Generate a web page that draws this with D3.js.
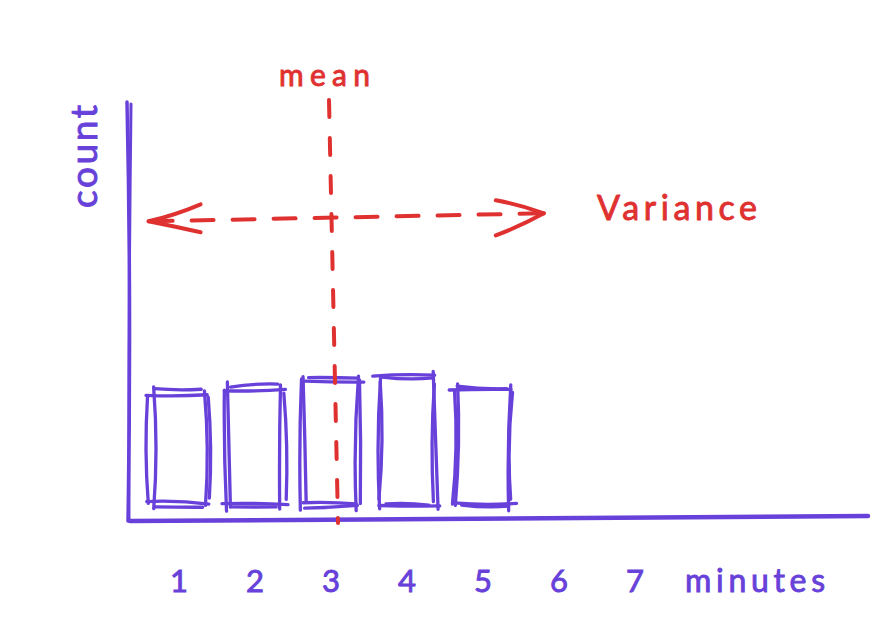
<!DOCTYPE html>
<html><head><meta charset="utf-8">
<script src="https://cdn.jsdelivr.net/npm/d3@7"></script>
<style>
html,body{margin:0;padding:0;background:#fff;}
svg{display:block;}
text{font-family:"Lato","Noto Sans",sans-serif;}
</style></head>
<body>
<svg id="chart" width="896" height="642"></svg>
<script>
// ---- data ----
const minuteTicks = [1, 2, 3, 4, 5, 6, 7];
const barMinutes = [1, 2, 3, 4, 5];
const barCounts = [5.3, 5.5, 5.8, 5.9, 5.4];
const meanMinute = 3;
const varianceRange = [0.6, 5.8];
const varianceLevel = 12.6;
const xAxisLabel = "minutes";
const yAxisLabel = "count";
const meanLabel = "mean";
const varianceLabel = "Variance";

(function () {
const purple = "#6741d9";
const red = "#e03131";

const svg = d3.select("#chart");
const plotLeft = 128, plotRight = 868, base = 519, plotTop = 100;

const x = d3.scaleLinear().domain([1, 7]).range([179, 635]);
const y = d3.scaleLinear().domain([0, 17.5]).range([base, plotTop]);

// deterministic wobble helper (styling only)
function wob(k) { return (Math.sin(k * 12.9898) * 43758.5453) % 1; }

function sketch(g, x1, y1, x2, y2, k, color, w, passes = 2, over = 7, off = 3.5) {
  for (let p = 0; p < passes; p++) {
    const s = k * 7 + p * 3.1;
    const dx = x2 - x1, dy = y2 - y1;
    const len = Math.hypot(dx, dy) || 1;
    const ux = dx / len, uy = dy / len;
    const nx = -uy, ny = ux;
    const o1 = wob(s + 1) * over, o2 = wob(s + 2) * over;
    const sx = x1 - ux * o1 + nx * wob(s + 3) * off;
    const sy = y1 - uy * o1 + ny * wob(s + 3) * off;
    const ex = x2 + ux * o2 + nx * wob(s + 4) * off;
    const ey = y2 + uy * o2 + ny * wob(s + 4) * off;
    const bow = wob(s + 5) * Math.min(5, len * 0.05);
    const mx = (sx + ex) / 2 + nx * bow, my = (sy + ey) / 2 + ny * bow;
    g.append("path")
      .attr("d", `M${sx},${sy} Q${mx},${my} ${ex},${ey}`)
      .attr("fill", "none").attr("stroke", color)
      .attr("stroke-width", w).attr("stroke-linecap", "round");
  }
}

// axes
const axes = svg.append("g");
sketch(axes, plotLeft - 1, plotTop + 2, plotLeft, base + 2, 1, purple, 3.5, 1, 0, 0);
sketch(axes, plotLeft + 3, plotTop + 4, plotLeft + 1, base + 2, 2, purple, 3, 1, 0, 0);
axes.append("path")
  .attr("d", `M${plotLeft + 2},${base + 2} L${plotRight},${base - 3}`)
  .attr("stroke", purple).attr("stroke-width", 4.5).attr("stroke-linecap", "round").attr("fill", "none");

// bars
const bw = 56;
const bars = svg.append("g");
barMinutes.forEach((m, i) => {
  const cx = x(m);
  const x0 = cx - bw / 2, x1 = cx + bw / 2;
  const yt = y(barCounts[i]), yb = base - 14;
  const k = i * 4 + 10;
  sketch(bars, x0, yt, x1, yt, k, purple, 3.3);
  sketch(bars, x1, yt, x1, yb, k + 1, purple, 3.3);
  sketch(bars, x1, yb, x0, yb, k + 2, purple, 3.3);
  sketch(bars, x0, yb, x0, yt, k + 3, purple, 3.3);
});

// mean line
const mx = x(meanMinute);
svg.append("line")
  .attr("x1", mx - 2).attr("y1", plotTop).attr("x2", mx + 7).attr("y2", base + 4)
  .attr("stroke", red).attr("stroke-width", 4).attr("stroke-linecap", "round")
  .attr("stroke-dasharray", "17 21");
svg.append("text").attr("x", 279).attr("y", 86)
  .attr("fill", red)
  .attr("font-size", 30).attr("stroke", red).attr("stroke-width", 0.9)
  .attr("textLength", 91).attr("lengthAdjust", "spacing")
  .text(meanLabel);

// variance arrow
const ax1 = x(varianceRange[0]), ax2 = x(varianceRange[1]);
const ay = y(varianceLevel);
const arr = svg.append("g");
arr.append("line")
  .attr("x1", ax1 + 2).attr("y1", ay + 4).attr("x2", ax2 - 2).attr("y2", ay - 4)
  .attr("stroke", red).attr("stroke-width", 4).attr("stroke-linecap", "round")
  .attr("stroke-dasharray", "22 19");
sketch(arr, ax1, ay + 4, ax1 + 52, ay - 13, 40, red, 4, 1, 0, 0);
sketch(arr, ax1, ay + 4, ax1 + 52, ay + 15, 41, red, 4, 1, 0, 0);
sketch(arr, ax2, ay - 4, ax2 - 48, ay - 17, 42, red, 4, 1, 0, 0);
sketch(arr, ax2, ay - 4, ax2 - 48, ay + 18, 43, red, 4, 1, 0, 0);
svg.append("text").attr("x", 597).attr("y", 220)
  .attr("fill", red).attr("font-size", 34).attr("stroke", red).attr("stroke-width", 0.9)
  .attr("textLength", 160).attr("lengthAdjust", "spacing")
  .text(varianceLabel);

// tick labels
svg.append("g").selectAll("text").data(minuteTicks).join("text")
  .attr("x", d => x(d)).attr("y", 592)
  .attr("text-anchor", "middle").attr("fill", purple)
  .attr("font-size", 31).attr("stroke", purple).attr("stroke-width", 0.9)
  .text(d => d);
svg.append("text").attr("x", 685).attr("y", 592)
  .attr("fill", purple).attr("font-size", 32).attr("stroke", purple).attr("stroke-width", 0.9)
  .attr("textLength", 140).attr("lengthAdjust", "spacing")
  .text(xAxisLabel);

// y label
svg.append("text")
  .attr("transform", "translate(97,208) rotate(-90)")
  .attr("fill", purple)
  .attr("font-size", 37).attr("stroke", purple).attr("stroke-width", 0.9)
  .attr("textLength", 103).attr("lengthAdjust", "spacing")
  .text(yAxisLabel);
})();
</script>
</body></html>
